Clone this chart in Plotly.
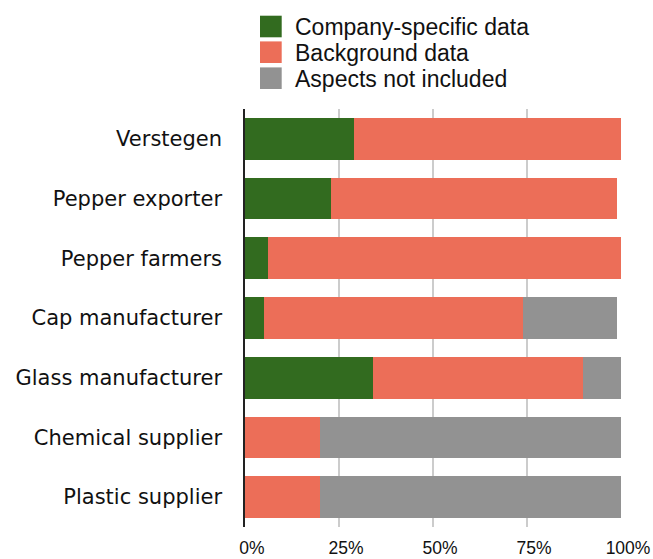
import plotly.graph_objects as go

categories = ["Verstegen", "Pepper exporter", "Pepper farmers", "Cap manufacturer",
              "Glass manufacturer", "Chemical supplier", "Plastic supplier"]
company_specific = [29, 23, 6, 5, 34, 0, 0]
background = [71, 76, 94, 69, 56, 20, 20]
not_included = [0, 0, 0, 25, 10, 80, 80]
series_names = ["Company-specific data", "Background data", "Aspects not included"]
colors = ["#326b1f", "#ec6e58", "#929292"]
x_ticks = [0, 25, 50, 75, 100]
x_tick_labels = ["0%", "25%", "50%", "75%", "100%"]

fig = go.Figure()
for name, vals, col in zip(series_names, [company_specific, background, not_included], colors):
    fig.add_trace(go.Bar(
        y=categories, x=vals, name=name, orientation="h",
        marker=dict(color=col, line=dict(width=0)),
        showlegend=False,
    ))

# Legend drawn as squares + text in paper coordinates (larger than plotly's built-in icons)
W, H = 653, 559
ml, mr, mt, mb = 245, 32, 109, 32
pw, ph = W - ml - mr, H - mt - mb
def px_to_paper_x(px):
    return (px - ml) / pw
def px_to_paper_y(py):
    return (H - mb - py) / ph

shapes = []
annotations = []
leg_centers = [26.5, 52.2, 78.2]
for name, col, cy in zip(series_names, colors, leg_centers):
    shapes.append(dict(type="rect", xref="paper", yref="paper",
                       x0=px_to_paper_x(260), x1=px_to_paper_x(281.7),
                       y0=px_to_paper_y(cy + 10.8), y1=px_to_paper_y(cy - 10.8),
                       fillcolor=col, line=dict(width=0)))
    annotations.append(dict(xref="paper", yref="paper", x=px_to_paper_x(293),
                            y=px_to_paper_y(cy + 0.5), xanchor="left", yanchor="middle",
                            text=name, showarrow=False,
                            font=dict(family="Liberation Sans, Arial", size=23, color="#111111")))

fig.update_layout(
    barmode="stack",
    bargap=0.30,
    width=W, height=H,
    margin=dict(l=ml, r=mr, t=mt, b=mb, pad=0, autoexpand=False),
    paper_bgcolor="white", plot_bgcolor="white",
    shapes=shapes, annotations=annotations,
    showlegend=False,
    xaxis=dict(range=[0, 100], tickvals=x_ticks, ticktext=x_tick_labels,
               showgrid=True, gridcolor="#cccccc", gridwidth=1.5,
               zeroline=False, showline=False, ticks="", automargin=False,
               ticklabelstandoff=8, ticklabelshift=7,
               tickfont=dict(family="Liberation Sans, Arial", size=17.5, color="#111111")),
    yaxis=dict(autorange="reversed", showgrid=False, zeroline=False,
               showline=True, linecolor="#222222", linewidth=1.5,
               ticks="", ticklabelstandoff=17, automargin=False,
               tickfont=dict(family="DejaVu Sans, Verdana", size=21, color="#111111")),
)

fig.write_html("out.html")
